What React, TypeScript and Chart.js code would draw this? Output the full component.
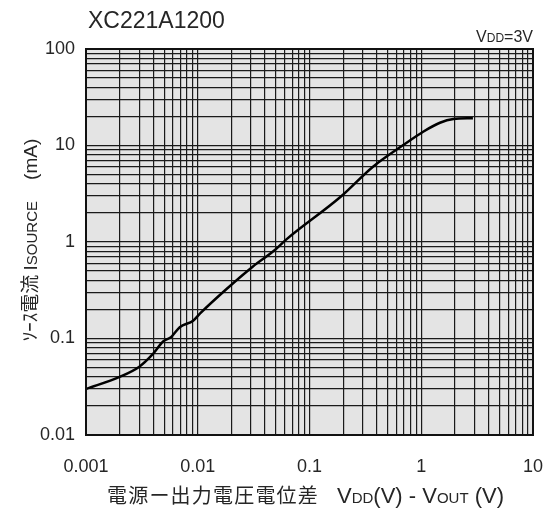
import React, { useEffect, useRef } from "react";
import { Chart, registerables } from "chart.js";

Chart.register(...registerables);

const vdiff = [0.001, 0.002, 0.003, 0.0039, 0.0049, 0.0058, 0.0069, 0.0091, 0.0105, 0.018, 0.031, 0.049, 0.0625, 0.19, 0.37, 0.69, 1.04, 1.47, 1.94, 2.9];
const isource = [0.03, 0.04, 0.051, 0.0675, 0.093, 0.104, 0.131, 0.153, 0.182, 0.324, 0.555, 0.826, 1.07, 2.94, 6.03, 10.1, 13.9, 17.2, 18.8, 19.2];

const xDecades = [0.001, 0.01, 0.1, 1, 10];
const xTickLabels = ["0.001", "0.01", "0.1", "1", "10"];
const yDecades = [0.01, 0.1, 1, 10, 100];
const yTickLabels = ["0.01", "0.1", "1", "10", "100"];

const TITLE = "XC221A1200";
const FONT = "'Liberation Sans', Arial, sans-serif";
const CJK = "'Noto Sans CJK JP', sans-serif";
const TEXT = "#262626";

function gridValues(decades: number[]) {
  const vals: number[] = [];
  for (let i = 0; i < decades.length; i++) {
    const d = decades[i];
    if (i === decades.length - 1) {
      vals.push(d);
    } else {
      for (let m = 1; m <= 9; m++) vals.push(+(d * m).toPrecision(6));
    }
  }
  return vals;
}

function labelFor(v: number, decades: number[], labels: string[]) {
  for (let i = 0; i < decades.length; i++) {
    if (Math.abs(v - decades[i]) / decades[i] < 1e-6) return labels[i];
  }
  return "";
}

type Seg = { t: string; f: string };

function drawSegs(ctx: CanvasRenderingContext2D, segs: Seg[], x: number, y: number, align: "left" | "right" | "center") {
  let total = 0;
  for (const s of segs) {
    ctx.font = s.f;
    total += ctx.measureText(s.t).width;
  }
  let cx = align === "left" ? x : align === "right" ? x - total : x - total / 2;
  ctx.textAlign = "left";
  for (const s of segs) {
    ctx.font = s.f;
    ctx.fillText(s.t, cx, y);
    cx += ctx.measureText(s.t).width;
  }
}

const decorPlugin = {
  id: "decor",
  beforeDraw(chart: any) {
    const { ctx, chartArea } = chart;
    ctx.save();
    ctx.fillStyle = "#ffffff";
    ctx.fillRect(0, 0, chart.width, chart.height);
    ctx.fillStyle = "#e4e4e4";
    ctx.fillRect(chartArea.left, chartArea.top, chartArea.right - chartArea.left, chartArea.bottom - chartArea.top);
    ctx.restore();
  },
  afterDraw(chart: any) {
    const { ctx, chartArea } = chart;
    ctx.save();
    ctx.strokeStyle = "#111";
    ctx.lineWidth = 2;
    ctx.strokeRect(chartArea.left, chartArea.top, chartArea.right - chartArea.left, chartArea.bottom - chartArea.top);

    ctx.fillStyle = TEXT;
    ctx.textBaseline = "alphabetic";
    // Title
    ctx.font = `23px ${FONT}`;
    ctx.textAlign = "left";
    ctx.fillText(TITLE, 88, 28);

    // VDD=3V
    drawSegs(
      ctx,
      [
        { t: "V", f: `16px ${FONT}` },
        { t: "DD", f: `12px ${FONT}` },
        { t: "=3V", f: `16px ${FONT}` },
      ],
      533,
      42,
      "right"
    );

    // X axis title
    const jp = "電源ー出力電圧電位差";
    ctx.font = `20px ${CJK}`;
    let x = 107;
    for (const ch of jp) {
      ctx.fillText(ch, x, 503);
      x += 21.2;
    }
    drawSegs(
      ctx,
      [
        { t: "V", f: `22px ${FONT}` },
        { t: "DD", f: `15px ${FONT}` },
        { t: "(V) - V", f: `22px ${FONT}` },
        { t: "OUT", f: `15px ${FONT}` },
        { t: " (V)", f: `22px ${FONT}` },
      ],
      337,
      503,
      "left"
    );

    // Y axis title
    ctx.save();
    ctx.translate(37, 240);
    ctx.rotate(-Math.PI / 2);
    drawSegs(
      ctx,
      [
        { t: "ｿｰｽ電流 ", f: `19px ${CJK}` },
        { t: "I", f: `19px ${FONT}` },
        { t: "SOURCE", f: `15px ${FONT}` },
        { t: "    (mA)", f: `19px ${FONT}` },
      ],
      0,
      0,
      "center"
    );
    ctx.restore();
    ctx.restore();
  },
};

export default function App() {
  const canvasRef = useRef<HTMLCanvasElement | null>(null);

  useEffect(() => {
    const canvas = canvasRef.current;
    if (!canvas) return;
    const xGrid = gridValues(xDecades);
    const yGrid = gridValues(yDecades);
    const chart = new Chart(canvas, {
      type: "line",
      data: {
        datasets: [
          {
            data: vdiff.map((v, i) => ({ x: v, y: isource[i] })),
            borderColor: "#000",
            borderWidth: 2.5,
            pointRadius: 0,
            cubicInterpolationMode: "monotone",
            fill: false,
          },
        ],
      },
      options: {
        responsive: false,
        animation: false,
        events: [],
        layout: { padding: { top: 49, right: 17, left: 0, bottom: 0 } },
        plugins: { legend: { display: false }, tooltip: { enabled: false }, title: { display: false } },
        scales: {
          x: {
            type: "logarithmic",
            min: 0.001,
            max: 10,
            afterBuildTicks: (scale: any) => {
              scale.ticks = xGrid.map((v) => ({ value: v }));
            },
            afterFit: (scale: any) => {
              scale.height = 81;
              scale.paddingLeft = 0;
              scale.paddingRight = 0;
            },
            grid: { color: "#1a1a1a", lineWidth: 1.2, drawTicks: false },
            border: { display: false },
            ticks: {
              autoSkip: false,
              maxRotation: 0,
              minRotation: 0,
              padding: 21,
              color: TEXT,
              font: { family: FONT, size: 18 },
              callback: (v: any) => labelFor(Number(v), xDecades, xTickLabels),
            },
          },
          y: {
            type: "logarithmic",
            min: 0.01,
            max: 100,
            afterBuildTicks: (scale: any) => {
              scale.ticks = yGrid.map((v) => ({ value: v }));
            },
            afterFit: (scale: any) => {
              scale.width = 86;
              scale.paddingTop = 0;
              scale.paddingBottom = 0;
            },
            grid: { color: "#1a1a1a", lineWidth: 1.2, drawTicks: false },
            border: { display: false },
            ticks: {
              autoSkip: false,
              padding: 11,
              color: TEXT,
              font: { family: FONT, size: 18 },
              callback: (v: any) => labelFor(Number(v), yDecades, yTickLabels),
            },
          },
        },
      },
      plugins: [decorPlugin],
    } as any);
    return () => chart.destroy();
  }, []);

  return (
    <div style={{ position: "absolute", left: 0, top: 0, width: 550, height: 516, background: "#fff" }}>
      <canvas ref={canvasRef} width={550} height={516} style={{ display: "block" }} />
    </div>
  );
}
